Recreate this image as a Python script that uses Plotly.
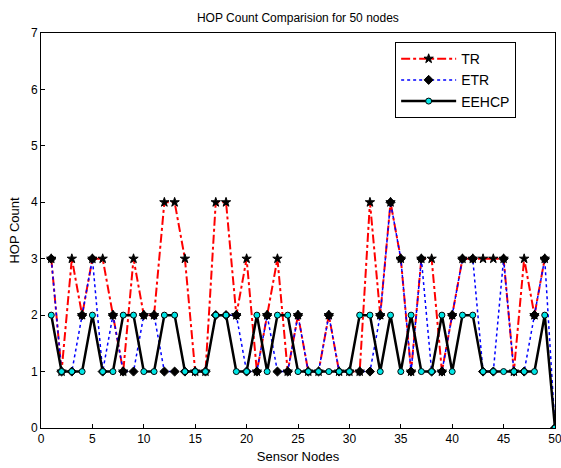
import plotly.graph_objects as go

nodes = list(range(1, 51))

tr = [3, 1, 3, 2, 3, 3, 2, 1, 3, 2,
      2, 4, 4, 3, 1, 1, 4, 4, 2, 3,
      1, 2, 3, 1, 2, 1, 1, 2, 1, 1,
      1, 4, 2, 4, 3, 1, 3, 3, 1, 2,
      3, 3, 3, 3, 3, 1, 3, 2, 3]

etr = [3, 1, 1, 2, 3, 1, 2, 1, 1, 2,
       2, 1, 1, 1, 1, 1, 2, 2, 2, 1,
       1, 2, 1, 1, 2, 1, 1, 2, 1, 1,
       1, 1, 2, 4, 3, 1, 3, 1, 1, 2,
       3, 3, 1, 1, 3, 1, 1, 2, 3, 0]

eehcp = [2, 1, 1, 1, 2, 1, 1, 2, 2, 1,
         1, 2, 2, 1, 1, 1, 2, 2, 1, 1,
         2, 1, 2, 2, 1, 1, 1, 1, 1, 1,
         2, 2, 1, 2, 1, 2, 1, 1, 2, 1,
         2, 2, 1, 1, 1, 1, 1, 1, 2, 0]

x_ticks = list(range(0, 51, 5))
y_ticks = list(range(0, 8))

FONT = "Liberation Sans, Arial, sans-serif"

fig = go.Figure()
fig.add_trace(go.Scatter(
    x=nodes[:len(tr)], y=tr, name="TR", mode="lines+markers",
    line=dict(color="#ff0000", width=2, dash="dashdot"),
    marker=dict(symbol="star", size=7, color="black", line=dict(color="black", width=1)),
))
fig.add_trace(go.Scatter(
    x=nodes[:len(etr)], y=etr, name="ETR", mode="lines+markers",
    line=dict(color="#0000ff", width=1.5, dash="dot"),
    marker=dict(symbol="diamond", size=7, color="black", line=dict(color="black", width=1)),
))
fig.add_trace(go.Scatter(
    x=nodes[:len(eehcp)], y=eehcp, name="EEHCP", mode="lines+markers",
    line=dict(color="black", width=2.5),
    marker=dict(symbol="circle", size=6, color="#00e5e5", line=dict(color="black", width=1)),
))

fig.update_layout(
    width=561, height=468,
    margin=dict(l=41, r=6, t=33, b=40, autoexpand=False),
    paper_bgcolor="white", plot_bgcolor="white",
    font=dict(family=FONT, size=12, color="black"),
    title=dict(text="HOP Count Comparision for 50 nodes", x=0.531, xanchor="center",
               y=0.963, yanchor="middle", font=dict(size=12, family=FONT, color="black")),
    showlegend=True,
    legend=dict(x=0.689, xanchor="left", y=0.977, yanchor="top",
                bgcolor="white", bordercolor="black", borderwidth=1,
                font=dict(size=14, family=FONT, color="black"),
                tracegroupgap=0, itemwidth=55,
                entrywidth=140, entrywidthmode="pixels"),
)
fig.update_xaxes(range=[0, 50], tickvals=x_ticks, ticktext=[str(v) for v in x_ticks],
                 automargin=False, ticklabeloverflow="allow",
                 showline=True, mirror=True, linecolor="black", linewidth=1,
                 ticks="inside", ticklen=4, tickcolor="black", showgrid=False, zeroline=False,
                 title=dict(text="Sensor Nodes", standoff=6, font=dict(size=13, family=FONT)),
                 tickfont=dict(size=12, family=FONT))
fig.update_yaxes(range=[0, 7], tickvals=y_ticks, ticktext=[str(v) for v in y_ticks],
                 automargin=False, ticklabeloverflow="allow",
                 showline=True, mirror=True, linecolor="black", linewidth=1,
                 ticks="inside", ticklen=4, tickcolor="black", showgrid=False, zeroline=False,
                 title=dict(text="HOP Count", standoff=8, font=dict(size=13, family=FONT)),
                 tickfont=dict(size=12, family=FONT))

fig.write_html("out.html", config={"displayModeBar": False},
               post_script="document.body.style.margin='0';document.body.style.padding='0';")
